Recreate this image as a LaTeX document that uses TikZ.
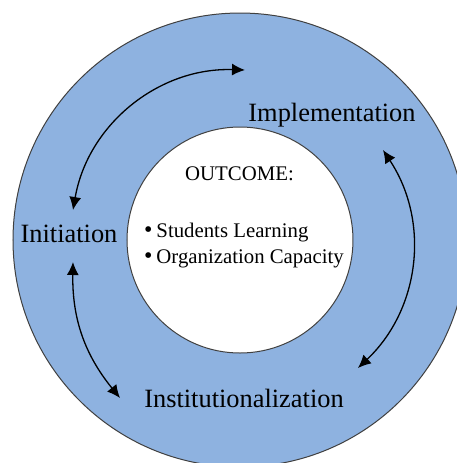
\documentclass[tikz,border=0pt]{standalone}
\usepackage{fontspec}
\setmainfont{Liberation Serif}
\usetikzlibrary{arrows.meta}
\definecolor{ringblue}{RGB}{142,178,224}

\begin{document}
\begin{tikzpicture}[x=0.5pt,y=-0.5pt,
    ring/.style={draw=black!75, line width=0.5pt},
    stage/.style={anchor=base, font=\fontsize{13.2}{15}\selectfont},
    inner/.style={font=\fontsize{10.4}{13}\selectfont},
    cycle/.style={{Latex[length=6.5pt,width=6pt]}-{Latex[length=6.5pt,width=6pt]}, line width=0.65pt}]

    \clip (0,0) rectangle (457,463);
    \fill[white] (0,0) rectangle (457,463);

    \draw[ring, fill=ringblue] (240,240) circle (227);
    \draw[ring, fill=white] (240,240) circle (113);

    \draw (332,121) node [stage] (impl) {Implementation};
    \draw (69,242)  node [stage] (init) {Initiation};
    \draw (244,407) node [stage] (inst) {Institutionalization};

    \draw (239.5,180) node [inner, anchor=base] (outcome) {OUTCOME:};
    \draw (137,237) node [inner, anchor=base west] (learn) {{\large\textbullet}\hspace{2pt}Students Learning};
    \draw (137,263) node [inner, anchor=base west] (capacity) {{\large\textbullet}\hspace{2pt}Organization Capacity};

    \coordinate (a1) at (73,210);
    \coordinate (a2) at (245,70);
    \coordinate (b1) at (383,150);
    \coordinate (b2) at (358,368);
    \coordinate (c1) at (73,262);
    \coordinate (c2) at (120,398);

    \draw[cycle] (a1) to[bend left=41] (a2);
    \draw[cycle] (b1) to[bend left=40] (b2);
    \draw[cycle] (c1) to[bend right=20] (c2);

\end{tikzpicture}
\end{document}
